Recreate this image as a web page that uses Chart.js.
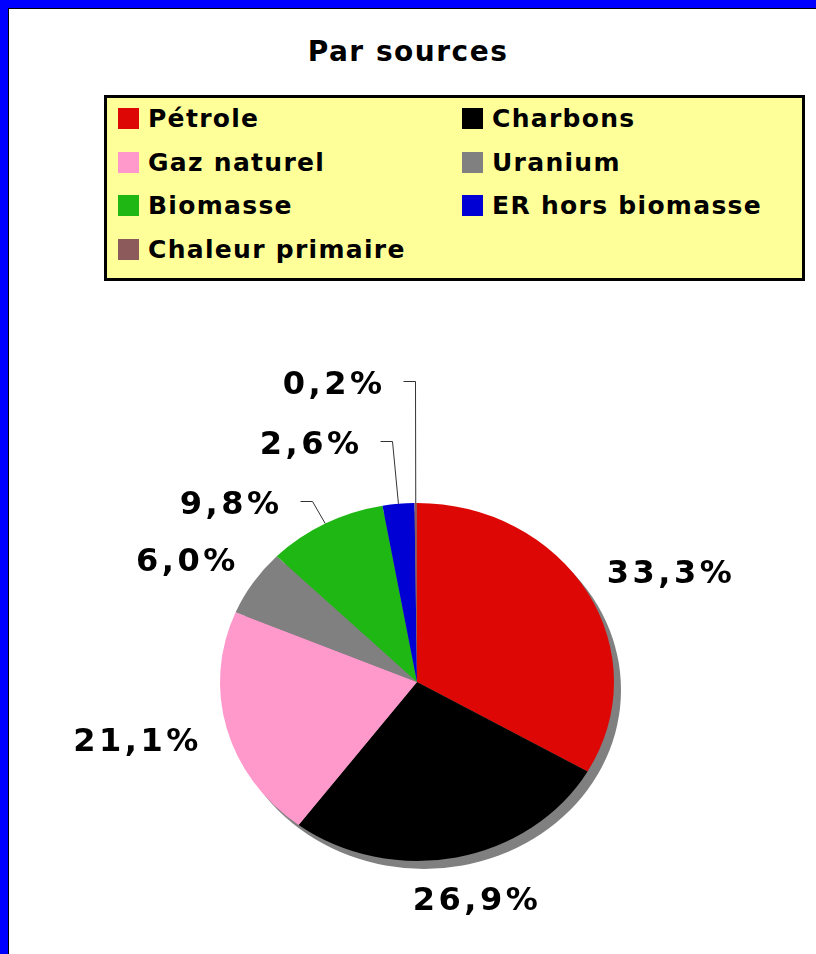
<!DOCTYPE html>
<html lang="fr">
<head>
<meta charset="utf-8">
<title>Par sources</title>
<script src="https://cdn.jsdelivr.net/npm/chart.js@4.4.1/dist/chart.umd.min.js"></script>
<style>
  html, body { margin: 0; padding: 0; background: #fff; }
  body {
    width: 816px; height: 954px; position: relative; overflow: hidden;
    font-family: "DejaVu Sans", Verdana, sans-serif; font-weight: bold; color: #000;
  }
  #cadre {
    position: absolute; left: 0; top: 0; width: 816px; height: 954px; box-sizing: border-box;
    border-left: 8px solid #0000ff; border-top: 8px solid #0000ff;
  }
  #cadre-int {
    width: 100%; height: 100%; box-sizing: border-box;
    border-left: 1px solid #000; border-top: 1px solid #000;
  }
  #titre {
    position: absolute; left: 0; top: 37px; width: 816px; text-align: center;
    font-size: 28px; line-height: 30px; letter-spacing: 1.5px;
  }
  #legende {
    position: absolute; left: 104px; top: 95px; width: 701px; height: 186px; box-sizing: border-box;
    border: 3px solid #000; background: #ffff99; padding-left: 11px;
    display: grid; grid-template-columns: 344px 1fr; grid-auto-rows: 43.5px;
    font-size: 25px; letter-spacing: 1.3px;
  }
  .item { display: flex; align-items: center; position: relative; top: -1px; }
  .carre { width: 21px; height: 21px; margin-right: 9px; flex: none; }
  #graphe { position: absolute; left: 0; top: 300px; }
</style>
</head>
<body>
<div id="cadre"><div id="cadre-int"></div></div>
<div id="titre">Par sources</div>
<div id="legende"></div>
<canvas id="graphe" width="816" height="654"></canvas>

<script>
// ============= DONNÉES =============
const categories = ['Pétrole', 'Charbons', 'Gaz naturel', 'Uranium', 'Biomasse', 'ER hors biomasse', 'Chaleur primaire'];
const parts = [33.3, 26.9, 21.1, 6.0, 9.8, 2.6, 0.2];

// ============= STYLE =============
const couleurs = ['#dd0806', '#000000', '#ff99cc', '#808080', '#1fb714', '#0000d4', '#8c5a5a'];

const ECRASEMENT = 179 / 197;              // camembert légèrement aplati
const OMBRE = { dx: 7, dy: 8, couleur: '#808080' };
const ECART = 30;                          // distance étiquette / bord
// étiquettes déplacées avec trait de rappel (facteur radial du coude)
const RENVOIS = { 'Biomasse': 1.14, 'ER hors biomasse': 1.35, 'Chaleur primaire': 1.68 };

const formater = v => v.toFixed(1).replace('.', ',') + '%';

// ============= LÉGENDE =============
const legende = document.getElementById('legende');
categories.forEach((nom, i) => {
    const item = document.createElement('div');
    item.className = 'item';
    const carre = document.createElement('span');
    carre.className = 'carre';
    carre.style.background = couleurs[i];
    item.appendChild(carre);
    item.appendChild(document.createTextNode(nom));
    legende.appendChild(item);
});

// ============= PLUGIN : ellipse, ombre, étiquettes =============
const pluginCamembert = {
    id: 'camembert',
    beforeDatasetsDraw(chart) {
        const arc = chart.getDatasetMeta(0).data[0];
        const { x, y, outerRadius } = arc.getProps(['x', 'y', 'outerRadius'], true);
        const ctx = chart.ctx;
        ctx.save();
        ctx.fillStyle = OMBRE.couleur;
        ctx.beginPath();
        ctx.ellipse(x + OMBRE.dx, y + OMBRE.dy, outerRadius, outerRadius * ECRASEMENT, 0, 0, Math.PI * 2);
        ctx.fill();
        ctx.translate(x, y);
        ctx.scale(1, ECRASEMENT);
        ctx.translate(-x, -y);
    },
    afterDatasetsDraw(chart) {
        const ctx = chart.ctx;
        ctx.restore();

        ctx.save();
        ctx.font = 'bold 32px "DejaVu Sans"';
        ctx.letterSpacing = '3.5px';
        ctx.fillStyle = '#000';
        const hCap = 23;

        chart.getDatasetMeta(0).data.forEach((arc, i) => {
            const { x, y, startAngle, endAngle, outerRadius: r } =
                arc.getProps(['x', 'y', 'startAngle', 'endAngle', 'outerRadius'], true);
            const mid = (startAngle + endAngle) / 2;
            const ux = Math.cos(mid), uy = Math.sin(mid);
            const texte = formater(parts[i]);
            const renvoi = RENVOIS[categories[i]];

            if (renvoi) {
                const sx = x + ux * r, sy = y + uy * r * ECRASEMENT;
                const ex = Math.round(x + ux * r * renvoi) + 0.5;
                const ey = Math.round(y + uy * r * ECRASEMENT * renvoi) + 0.5;
                ctx.strokeStyle = '#333';
                ctx.lineWidth = 1;
                ctx.beginPath();
                ctx.moveTo(sx, sy);
                ctx.lineTo(ex, ey);
                ctx.lineTo(ex - 12, ey);
                ctx.stroke();
                ctx.textAlign = 'right';
                ctx.textBaseline = 'alphabetic';
                ctx.fillText(texte, ex - 12 - 18, ey + 1 + hCap / 2);
            } else {
                const w = ctx.measureText(texte).width;
                const cx = x + ux * (r + ECART) + ux * w / 2;
                const cy = y + uy * (r * ECRASEMENT + ECART) + uy * hCap / 2;
                ctx.textAlign = 'center';
                ctx.textBaseline = 'alphabetic';
                ctx.fillText(texte, cx + 1.75, cy + hCap / 2);
            }
        });
        ctx.restore();
    }
};

// ============= GRAPHIQUE =============
new Chart(document.getElementById('graphe'), {
    type: 'pie',
    data: {
        labels: categories,
        datasets: [{
            data: parts,
            backgroundColor: couleurs,
            borderWidth: 0,
            hoverOffset: 0,
            clip: false
        }]
    },
    options: {
        responsive: false,
        devicePixelRatio: 1,
        animation: false,
        events: [],
        layout: { padding: { left: 220, right: 202, top: 185, bottom: 75 } },
        plugins: {
            legend: { display: false },
            tooltip: { enabled: false }
        }
    },
    plugins: [pluginCamembert]
});
</script>
</body>
</html>
